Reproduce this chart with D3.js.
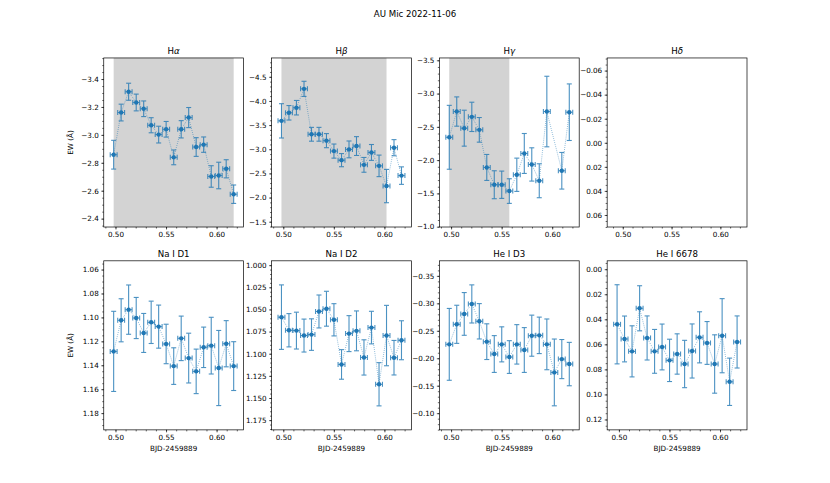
<!DOCTYPE html>
<html lang="en">
<head>
<meta charset="UTF-8">
<title>AU Mic 2022-11-06</title>
<script src="https://d3js.org/d3.v7.min.js"></script>
<style>
  body { margin: 0; background: #fff; }
  svg text { font-family: "DejaVu Sans", sans-serif; fill: #000; }
  .axis .tick text { font-size: 7.2px; }
  .axis path { display: none; }
  .axis line { stroke: #000; stroke-width: 0.6; }
</style>
</head>
<body>
<div id="chart"></div>
<script>
// observation times (BJD - 2459889)
const bjd = [0.4982, 0.5056, 0.5130, 0.5205, 0.5279, 0.5353, 0.5427, 0.5501, 0.5576,
             0.5650, 0.5724, 0.5798, 0.5872, 0.5947, 0.6021, 0.6095, 0.6169];
const bjdErr = 0.0034;

const haEW  = [-2.858, -3.160, -3.309, -3.232, -3.187, -3.069, -3.002, -3.040, -2.839,
               -3.040, -3.124, -2.913, -2.930, -2.702, -2.709, -2.757, -2.575];
const haErr = [0.103, 0.060, 0.061, 0.060, 0.056, 0.054, 0.060, 0.056, 0.053,
               0.062, 0.072, 0.067, 0.055, 0.077, 0.095, 0.065, 0.066];

const hbEW  = [-3.588, -3.755, -3.860, -4.250, -3.310, -3.310, -3.178, -2.962, -2.774,
               -2.997, -3.066, -2.677, -2.934, -2.656, -2.238, -3.032, -2.454];
const hbErr = [0.355, 0.150, 0.150, 0.157, 0.143, 0.143, 0.146, 0.146, 0.136,
               0.174, 0.195, 0.153, 0.164, 0.223, 0.345, 0.167, 0.181];

const hgEW  = [-2.343, -2.730, -2.480, -2.650, -2.455, -1.890, -1.630, -1.630, -1.535,
               -1.780, -2.100, -1.935, -1.690, -2.730, null, -1.840, -2.720];
const hgErr = [0.480, 0.220, 0.270, 0.220, 0.185, 0.195, 0.210, 0.205, 0.185,
               0.250, 0.300, 0.250, 0.255, 0.530, null, 0.275, 0.425];

const hdEW  = [];
const hdErr = [];

const naD1EW  = [1.1284, 1.1024, 1.0935, 1.1005, 1.1130, 1.1041, 1.1077, 1.1222, 1.1407,
                 1.1175, 1.1340, 1.1451, 1.1250, 1.1236, 1.1423, 1.1220, 1.1407];
const naD1Err = [0.0335, 0.0180, 0.0206, 0.0172, 0.0163, 0.0177, 0.0180, 0.0165, 0.0153,
                 0.0186, 0.0208, 0.0186, 0.0169, 0.0237, 0.0314, 0.0193, 0.0204];

const naD2EW  = [1.0587, 1.0735, 1.0739, 1.0795, 1.0784, 1.0523, 1.0492, 1.0617, 1.1121,
                 1.0773, 1.0742, 1.1042, 1.0705, 1.1345, 1.0795, 1.1045, 1.0848];
const naD2Err = [0.0364, 0.0188, 0.0208, 0.0186, 0.0178, 0.0186, 0.0197, 0.0182, 0.0167,
                 0.0203, 0.0225, 0.0199, 0.0184, 0.0244, 0.0341, 0.0195, 0.0220];

const heD3EW  = [-0.2253, -0.2618, -0.2807, -0.2989, -0.2673, -0.2302, -0.2077, -0.2253, -0.2022,
                 -0.2253, -0.2150, -0.2411, -0.2417, -0.2253, -0.1742, -0.1985, -0.1894];
const heD3Err = [0.0654, 0.0347, 0.0389, 0.0347, 0.0322, 0.0325, 0.0335, 0.0319, 0.0298,
                 0.0359, 0.0408, 0.0374, 0.0332, 0.0462, 0.0608, 0.0356, 0.0395];

const he6678EW  = [0.0440, 0.0557, 0.0656, 0.0312, 0.0549, 0.0656, 0.0621, 0.0728, 0.0677,
                   0.0757, 0.0653, 0.0544, 0.0589, 0.0757, 0.0531, 0.0899, 0.0581];
const he6678Err = [0.0316, 0.0183, 0.0204, 0.0180, 0.0176, 0.0175, 0.0183, 0.0169, 0.0161,
                   0.0189, 0.0216, 0.0204, 0.0171, 0.0233, 0.0296, 0.0189, 0.0208];

// shaded time windows
const haShade = [0.4982, 0.6169];
const hbShade = [0.4982, 0.6021];
const hgShade = [0.4982, 0.5576];

const xTicks = [0.50, 0.55, 0.60];

const panels = [
  { title: ["H", "α"], ew: haEW, err: haErr, shade: haShade, ydom: [-3.551, -2.340],
    yticks: [-3.4, -3.2, -3.0, -2.8, -2.6, -2.4], fmt: ".1f", minor: 0.05 },
  { title: ["H", "β"], ew: hbEW, err: hbErr, shade: hbShade, ydom: [-4.89, -1.39],
    yticks: [-4.5, -4.0, -3.5, -3.0, -2.5, -2.0, -1.5], fmt: ".1f", minor: 0.1 },
  { title: ["H", "γ"], ew: hgEW, err: hgErr, shade: hgShade, ydom: [-3.535, -0.995],
    yticks: [-3.5, -3.0, -2.5, -2.0, -1.5, -1.0], fmt: ".1f", minor: 0.1 },
  { title: ["H", "δ"], ew: hdEW, err: hdErr, shade: null, ydom: [-0.0705, 0.0700],
    yticks: [-0.06, -0.04, -0.02, 0.00, 0.02, 0.04, 0.06], fmt: ".2f", minor: 0.005,
    xdom: [0.4840, 0.6273] },
  { title: ["Na I D1"], ew: naD1EW, err: naD1Err, shade: null, ydom: [1.0527, 1.1940],
    yticks: [1.06, 1.08, 1.10, 1.12, 1.14, 1.16, 1.18], fmt: ".2f", minor: 0.005 },
  { title: ["Na I D2"], ew: naD2EW, err: naD2Err, shade: null, ydom: [0.9951, 1.1860],
    yticks: [1.000, 1.025, 1.050, 1.075, 1.100, 1.125, 1.150, 1.175], fmt: ".3f", minor: 0.005 },
  { title: ["He I D3"], ew: heD3EW, err: heD3Err, shade: null, ydom: [-0.3774, -0.0696],
    yticks: [-0.35, -0.30, -0.25, -0.20, -0.15, -0.10], fmt: ".2f", minor: 0.01 },
  { title: ["He I 6678"], ew: he6678EW, err: he6678Err, shade: null, ydom: [-0.0067, 0.1283],
    yticks: [0.00, 0.02, 0.04, 0.06, 0.08, 0.10, 0.12], fmt: ".2f", minor: 0.005 }
];

const W = 830, H = 483;
const figLeft = 0.125 * W, figRight = 0.9 * W;
const figTop = 0.12 * H, figBottom = 0.89 * H;
const pw = (figRight - figLeft) / (4 + 3 * 0.2);
const ph = (figBottom - figTop) / (2 + 0.2);
const blue = "#1f77b4";
const cap = 2.5;

const svg = d3.select("#chart").append("svg")
  .attr("width", W).attr("height", H);

svg.append("text")
  .attr("x", W / 2).attr("y", 17)
  .attr("text-anchor", "middle")
  .style("font-size", "8.65px")
  .text("AU Mic 2022-11-06");

function minorTicks(dom, step) {
  const lo = Math.min(dom[0], dom[1]), hi = Math.max(dom[0], dom[1]);
  return d3.range(Math.ceil(lo / step - 1e-6), Math.floor(hi / step + 1e-6) + 1)
    .map(k => k * step);
}

panels.forEach((p, i) => {
  const col = i % 4, row = Math.floor(i / 4);
  const left = figLeft + col * pw * 1.2;
  const top = figTop + row * ph * 1.2;

  const g = svg.append("g").attr("transform", `translate(${left},${top})`);

  const x = d3.scaleLinear().domain(p.xdom || [0.4884, 0.6267]).range([0, pw]);
  const y = d3.scaleLinear().domain(p.ydom).range([0, ph]);

  if (p.shade) {
    g.append("rect")
      .attr("x", x(p.shade[0])).attr("y", 0)
      .attr("width", x(p.shade[1]) - x(p.shade[0]))
      .attr("height", ph)
      .attr("fill", "#d3d3d3");
  }

  const pts = bjd.map((t, k) => ({ t, v: p.ew[k], e: p.err[k] }))
    .filter(d => d.v != null);

  // dotted connecting line
  g.append("path")
    .datum(pts)
    .attr("fill", "none")
    .attr("stroke", blue)
    .attr("stroke-width", 0.8)
    .attr("stroke-dasharray", "0.8,1.3")
    .attr("opacity", 0.75)
    .attr("d", d3.line().x(d => x(d.t)).y(d => y(d.v)));

  const eb = g.append("g")
    .attr("stroke", blue)
    .attr("stroke-width", 1.1)
    .attr("opacity", 0.8);

  pts.forEach(d => {
    const cx = x(d.t), cy = y(d.v);
    const y1 = y(d.v - d.e), y2 = y(d.v + d.e);
    const x1 = x(d.t - bjdErr), x2 = x(d.t + bjdErr);
    eb.append("line").attr("x1", cx).attr("x2", cx).attr("y1", y1).attr("y2", y2);
    eb.append("line").attr("x1", cx - cap).attr("x2", cx + cap).attr("y1", y1).attr("y2", y1);
    eb.append("line").attr("x1", cx - cap).attr("x2", cx + cap).attr("y1", y2).attr("y2", y2);
    eb.append("line").attr("x1", x1).attr("x2", x2).attr("y1", cy).attr("y2", cy);
    eb.append("line").attr("x1", x1).attr("x2", x1).attr("y1", cy - cap).attr("y2", cy + cap);
    eb.append("line").attr("x1", x2).attr("x2", x2).attr("y1", cy - cap).attr("y2", cy + cap);
  });

  g.selectAll("circle.pt")
    .data(pts)
    .join("circle")
    .attr("class", "pt")
    .attr("cx", d => x(d.t))
    .attr("cy", d => y(d.v))
    .attr("r", 2.2)
    .attr("fill", blue);

  // axes
  g.append("g").attr("class", "axis")
    .attr("transform", `translate(0,${ph})`)
    .call(d3.axisBottom(x).tickValues(minorTicks(x.domain(), 0.01)).tickSize(1.5).tickFormat(""));
  g.append("g").attr("class", "axis")
    .attr("transform", `translate(0,${ph})`)
    .call(d3.axisBottom(x).tickValues(xTicks).tickSize(2.5).tickPadding(2.5)
      .tickFormat(d3.format(".2f")));

  g.append("g").attr("class", "axis")
    .call(d3.axisLeft(y).tickValues(minorTicks(p.ydom, p.minor)).tickSize(1.5).tickFormat(""));
  g.append("g").attr("class", "axis")
    .call(d3.axisLeft(y).tickValues(p.yticks).tickSize(2.5).tickPadding(2.5)
      .tickFormat(d3.format(p.fmt)));

  // frame
  g.append("rect")
    .attr("width", pw).attr("height", ph)
    .attr("fill", "none").attr("stroke", "#000").attr("stroke-width", 0.7);

  // title
  const tt = g.append("text")
    .attr("x", pw / 2).attr("y", -4.3)
    .attr("text-anchor", "middle")
    .style("font-size", "8.65px");
  tt.append("tspan").text(p.title[0]);
  if (p.title[1]) tt.append("tspan").style("font-style", "italic").text(p.title[1]);

  if (col === 0) {
    g.append("text")
      .attr("transform", `translate(-31,${ph / 2}) rotate(-90)`)
      .attr("text-anchor", "middle")
      .style("font-size", "7.2px")
      .text("EW (Å)");
  }
  if (row === 1) {
    g.append("text")
      .attr("x", pw / 2).attr("y", ph + 21)
      .attr("text-anchor", "middle")
      .style("font-size", "7.2px")
      .text("BJD-2459889");
  }
});
</script>
</body>
</html>
